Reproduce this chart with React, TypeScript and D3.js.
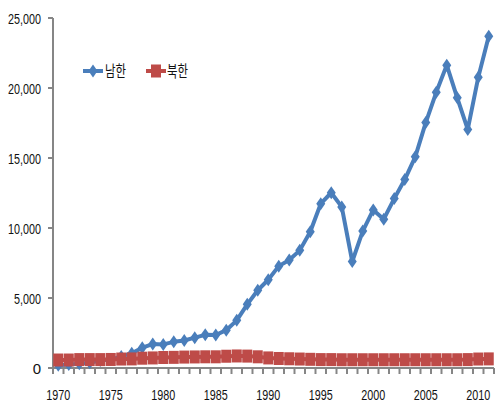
import React from "react";
import * as d3 from "d3";

const years: number[] = d3.range(1970, 2012);
const southKorea: number[] = [
  200, 250, 300, 380, 540, 600, 830, 1055, 1454, 1709,
  1686, 1870, 1963, 2167, 2370, 2355, 2702, 3402, 4548, 5556,
  6303, 7276, 7714, 8402, 9727, 11735, 12518, 11505, 7607, 9778,
  11292, 10631, 12100, 13460, 15082, 17531, 19691, 21632, 19296, 17041,
  20759, 23700,
];
const northKorea: number[] = [
  570, 570, 600, 600, 600, 610, 640, 650, 700, 720,
  750, 760, 780, 790, 800, 800, 840, 860, 850, 800,
  720, 680, 660, 640, 620, 600, 600, 590, 590, 590,
  590, 590, 590, 590, 590, 590, 590, 590, 590, 600,
  640, 650,
];
const yTicks: number[] = [0, 5000, 10000, 15000, 20000, 25000];
const xLabelYears: number[] = [1970, 1975, 1980, 1985, 1990, 1995, 2000, 2005, 2010];
const seriesNames: string[] = ["남한", "북한"];

const BLUE = "#4A7EBB";
const RED = "#BE4B48";
const AXIS = "#868686";

export default function App() {
  const W = 497, H = 403;
  const left = 53, right = 494, top = 18, bottom = 368;
  const x = d3.scaleBand<number>().domain(years).range([left, right]);
  const y = d3.scaleLinear().domain([0, 25000]).range([bottom, top]);
  const cx = (yr: number) => (x(yr) as number) + x.bandwidth() / 2;
  const line = d3.line<number>().x((_, i) => cx(years[i])).y((v) => y(v));
  const fmt = d3.format(",");
  const diamond = (px: number, py: number) =>
    `M${px},${py - 6.5}L${px + 4.5},${py}L${px},${py + 6.5}L${px - 4.5},${py}Z`;

  const boundaries = d3.range(years.length + 1).map((i) => left + i * x.step());

  return (
    <svg width={W} height={H} style={{ position: "absolute", left: 0, top: 0 }}>
      <rect width={W} height={H} fill="#fff" />
      {/* y axis */}
      <line x1={left} x2={left} y1={top} y2={bottom + 1} stroke={AXIS} strokeWidth={2} />
      {yTicks.map((t) => (
        <g key={t}>
          <line x1={left - 5} x2={left} y1={y(t)} y2={y(t)} stroke={AXIS} strokeWidth={2} />
          <text
            x={41}
            y={y(t) + 5.5}
            textAnchor="end"
            fontFamily="Liberation Sans, Arial, sans-serif"
            fontSize={15}
            fill="#111"
            textLength={t === 0 ? undefined : t >= 10000 ? 33 : 27}
            lengthAdjust="spacingAndGlyphs"
          >
            {fmt(t)}
          </text>
        </g>
      ))}
      {/* x axis */}
      <line x1={left} x2={right} y1={bottom} y2={bottom} stroke={AXIS} strokeWidth={2} />
      {boundaries.map((b, i) => (
        <line key={i} x1={b} x2={b} y1={bottom} y2={bottom + 6} stroke={AXIS} strokeWidth={2} />
      ))}
      {xLabelYears.map((yr) => (
        <text
          key={yr}
          x={cx(yr)}
          y={400}
          textAnchor="middle"
          fontFamily="Liberation Sans, Arial, sans-serif"
          fontSize={14.5}
          fill="#111"
          textLength={24}
          lengthAdjust="spacingAndGlyphs"
        >
          {yr}
        </text>
      ))}
      {/* South Korea */}
      <path d={line(southKorea) || ""} fill="none" stroke={BLUE} strokeWidth={4} strokeLinejoin="round" />
      {southKorea.map((v, i) => (
        <path key={i} d={diamond(cx(years[i]), y(v))} fill={BLUE} />
      ))}
      {/* North Korea */}
      <path d={line(northKorea) || ""} fill="none" stroke={RED} strokeWidth={4} />
      {northKorea.map((v, i) => (
        <rect key={i} x={cx(years[i]) - 5} y={y(v) - 6.5} width={10} height={13} fill={RED} />
      ))}
      {/* legend */}
      <g>
        <line x1={83} x2={103} y1={71} y2={71} stroke={BLUE} strokeWidth={4} />
        <path d={diamond(93, 71)} fill={BLUE} />
        <text x={105} y={77} fontFamily="Noto Sans CJK KR, sans-serif" fontSize={16} fill="#111"
          textLength={21} lengthAdjust="spacingAndGlyphs">{seriesNames[0]}</text>
        <line x1={146} x2={166} y1={71} y2={71} stroke={RED} strokeWidth={4} />
        <rect x={151} y={64.5} width={10} height={13} fill={RED} />
        <text x={167} y={77} fontFamily="Noto Sans CJK KR, sans-serif" fontSize={16} fill="#111"
          textLength={21} lengthAdjust="spacingAndGlyphs">{seriesNames[1]}</text>
      </g>
    </svg>
  );
}
